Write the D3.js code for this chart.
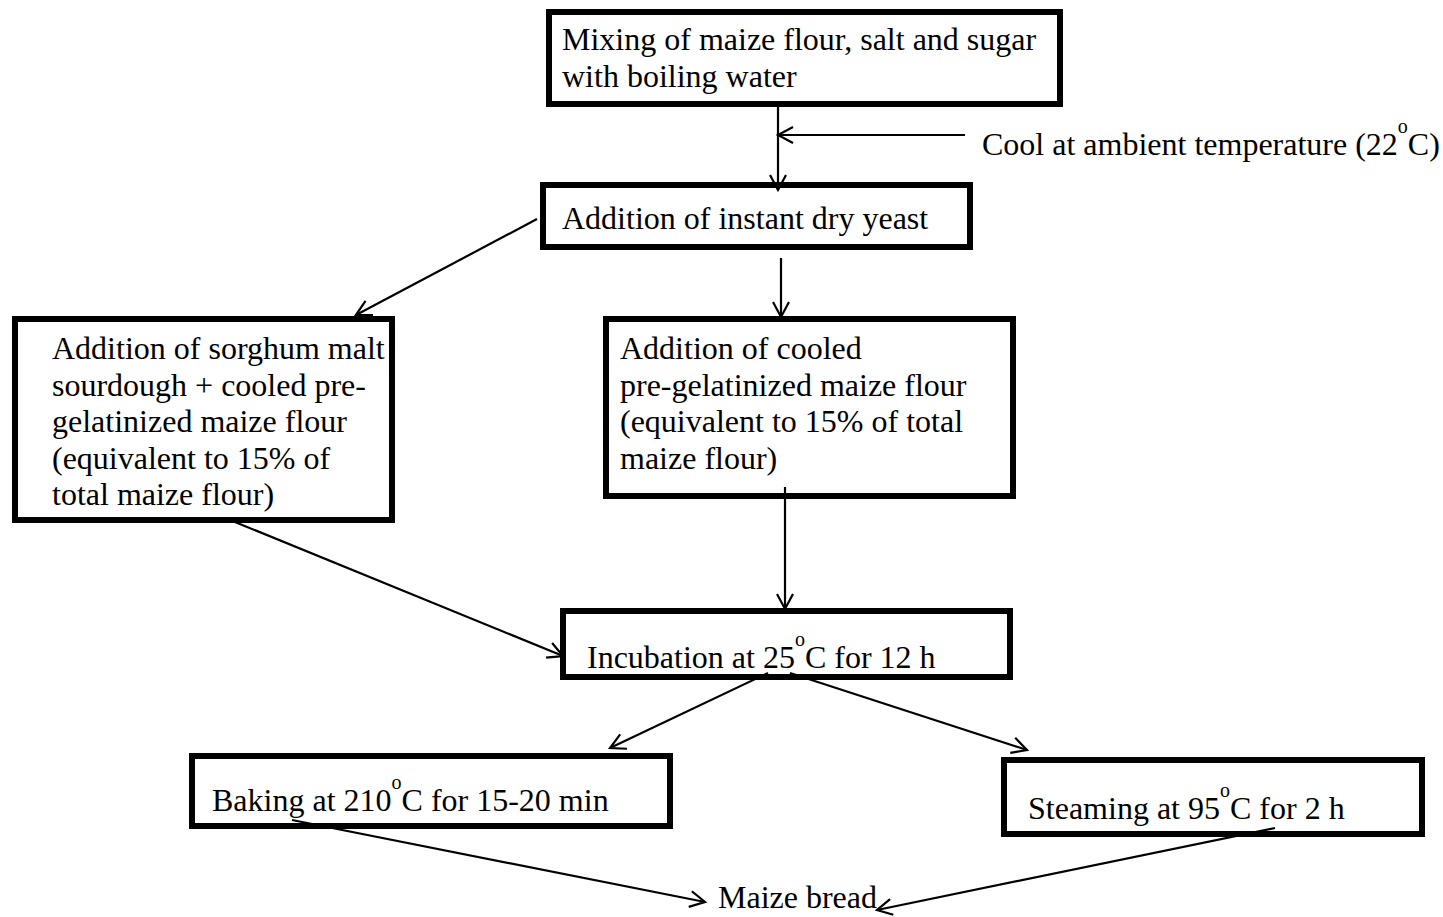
<!DOCTYPE html>
<html>
<head>
<meta charset="utf-8">
<script src="https://cdn.jsdelivr.net/npm/d3@7"></script>
<style>
  body { margin: 0; background: #fff; }
  text { font-family: "Liberation Serif", "Times New Roman", serif; font-size: 32px; fill: #000; }
</style>
</head>
<body>
<svg id="chart" width="1443" height="917"></svg>
<script>
// process steps ("^o" marks a raised degree "o")
const stepIds = ["mix", "yeast", "sour", "pregel", "incub", "bake", "steam", "bread", "cool"];
const stepLines = [
  ["Mixing of maize flour, salt and sugar", "with boiling water"],
  ["Addition of instant dry yeast"],
  ["Addition of sorghum malt", "sourdough + cooled pre-", "gelatinized maize flour", "(equivalent to 15% of", "total maize flour)"],
  ["Addition of cooled", "pre-gelatinized maize flour", "(equivalent to 15% of total", "maize flour)"],
  ["Incubation at 25^oC for 12 h"],
  ["Baking at 210^oC for 15-20 min"],
  ["Steaming at 95^oC for 2 h"],
  ["Maize bread"],
  ["Cool at ambient temperature (22^oC)"]
];
const boxed = ["mix", "yeast", "sour", "pregel", "incub", "bake", "steam"];

// arrows between steps
const edgeFrom = ["mix", "cool", "yeast", "yeast", "sour", "pregel", "incub", "incub", "bake", "steam"];
const edgeTo   = ["yeast", "mix", "sour", "pregel", "incub", "incub", "bake", "steam", "bread", "bread"];

// layout (page pixels)
const boxes = {
  mix:    {x: 549, y: 12,  w: 511, h: 92},
  yeast:  {x: 543, y: 185, w: 427, h: 62},
  sour:   {x: 15,  y: 319, w: 377, h: 201},
  pregel: {x: 606, y: 319, w: 407, h: 177},
  incub:  {x: 563, y: 611, w: 447, h: 66},
  bake:   {x: 192, y: 756, w: 478, h: 70},
  steam:  {x: 1004, y: 760, w: 418, h: 74}
};
const textPos = {
  mix: [562, 50], yeast: [562, 229], sour: [52, 359], pregel: [620, 359],
  incub: [587, 668], bake: [212, 811], steam: [1028, 819], bread: [718, 908], cool: [982, 155]
};
const lineGap = 36.5;
const edgePts = [
  [[778, 104], [778, 190]],
  [[965, 135], [778, 135]],
  [[537, 219], [356, 315]],
  [[781, 258], [781, 317]],
  [[230, 520], [563, 656]],
  [[785, 487], [785, 609]],
  [[768, 673], [610, 748]],
  [[790, 673], [1027, 750]],
  [[292, 820], [705, 902]],
  [[1275, 828], [877, 910]]
];

const svg = d3.select("#chart");

// boxes
svg.selectAll("rect.step")
  .data(boxed)
  .join("rect")
  .attr("class", "step")
  .attr("x", d => boxes[d].x)
  .attr("y", d => boxes[d].y)
  .attr("width", d => boxes[d].w)
  .attr("height", d => boxes[d].h)
  .attr("fill", "#fff")
  .attr("stroke", "#000")
  .attr("stroke-width", 6);

// labels
const labels = svg.selectAll("g.label")
  .data(stepIds)
  .join("g")
  .attr("class", "label");

labels.each(function(id, i) {
  const g = d3.select(this);
  const [tx, ty] = textPos[id];
  stepLines[i].forEach((line, k) => {
    const t = g.append("text").attr("x", tx).attr("y", ty + k * lineGap);
    line.split(/\^(o)/).forEach((part, j) => {
      if (j % 2 === 1) {
        t.append("tspan").attr("font-size", 20).attr("dy", -22).text(part);
      } else {
        t.append("tspan").attr("dy", j > 0 ? 22 : 0).text(part);
      }
    });
  });
});

// arrows
const line = d3.line();
const head = 17, ang = 28 * Math.PI / 180;
const arrows = svg.selectAll("g.edge")
  .data(edgeFrom.map((f, i) => ({from: f, to: edgeTo[i], pts: edgePts[i]})))
  .join("g")
  .attr("class", "edge");

arrows.append("path")
  .attr("d", d => line(d.pts))
  .attr("fill", "none")
  .attr("stroke", "#000")
  .attr("stroke-width", 2.2);

arrows.append("path")
  .attr("d", d => {
    const [a, b] = d.pts;
    const th = Math.atan2(b[1] - a[1], b[0] - a[0]);
    const p1 = [b[0] - head * Math.cos(th - ang), b[1] - head * Math.sin(th - ang)];
    const p2 = [b[0] - head * Math.cos(th + ang), b[1] - head * Math.sin(th + ang)];
    return line([p1, b, p2]);
  })
  .attr("fill", "none")
  .attr("stroke", "#000")
  .attr("stroke-width", 2.2);
</script>
</body>
</html>
